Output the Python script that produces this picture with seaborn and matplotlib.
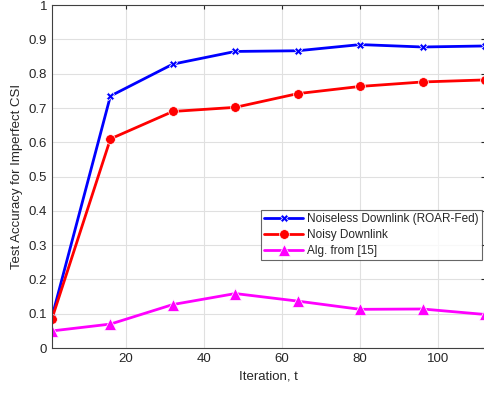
import matplotlib
matplotlib.use("Agg")
import matplotlib.pyplot as plt
import seaborn as sns
import pandas as pd

iterations = [1, 16, 32, 48, 64, 80, 96, 112]
noiseless = [0.09, 0.735, 0.828, 0.865, 0.867, 0.885, 0.878, 0.881]
noisy = [0.085, 0.61, 0.69, 0.702, 0.742, 0.763, 0.776, 0.782]
alg15 = [0.05, 0.07, 0.127, 0.159, 0.137, 0.113, 0.114, 0.098]
labels = ["Noiseless Downlink (ROAR-Fed)", "Noisy Downlink", "Alg. from [15]"]

sns.set_style("whitegrid")
plt.rcParams['font.family'] = ['Liberation Sans', 'DejaVu Sans']

df = pd.DataFrame({
    "t": iterations * 3,
    "acc": noiseless + noisy + alg15,
    "series": [labels[0]] * 8 + [labels[1]] * 8 + [labels[2]] * 8,
})

fig = plt.figure(figsize=(4.85, 3.96), dpi=100)
ax = fig.add_axes([0.107, 0.121, 0.893, 0.866])

sns.lineplot(data=df, x="t", y="acc", hue="series", style="series",
             palette=["#0000ff", "#ff0000", "#ff00ff"],
             markers=["X", "o", "^"], dashes=False, linewidth=2,
             markersize=7, markeredgewidth=0.5, ax=ax, legend=True)
sizes = {"X": 5.5, "o": 7, "^": 9}


def fix(line):
    m = line.get_marker()
    if m in sizes:
        line.set_markersize(sizes[m])


for ln in ax.lines:
    fix(ln)
    ln.set_clip_on(True)

ax.set_xlim(1, 112)
ax.set_ylim(0, 1)
ax.set_xticks([20, 40, 60, 80, 100])
ax.set_yticks([i / 10 for i in range(11)])
ax.set_yticklabels(["0", "0.1", "0.2", "0.3", "0.4", "0.5", "0.6", "0.7", "0.8", "0.9", "1"])
ax.grid(True, color="#e0e0e0", linewidth=0.8)
ax.tick_params(direction="in", top=True, right=True, labelsize=9.5,
               colors="#262626", length=3, width=0.8)
for s in ax.spines.values():
    s.set_color("#404040")
    s.set_linewidth(0.8)
ax.set_xlabel("Iteration, t", fontsize=9.5, color="#262626")
ax.set_ylabel("Test Accuracy for Imperfect CSI", fontsize=9.5, color="#262626")

handles, _ = ax.get_legend_handles_labels()
for h in handles:
    fix(h)
leg = ax.legend(loc="upper right", bbox_to_anchor=(0.993, 0.402), fontsize=8.5,
                frameon=True, fancybox=False, edgecolor="#404040",
                borderpad=0.25, labelspacing=0.35, handlelength=3.3,
                handletextpad=0.35, borderaxespad=0)
leg.get_frame().set_linewidth(0.8)

fig.savefig("out.png", dpi=100)
